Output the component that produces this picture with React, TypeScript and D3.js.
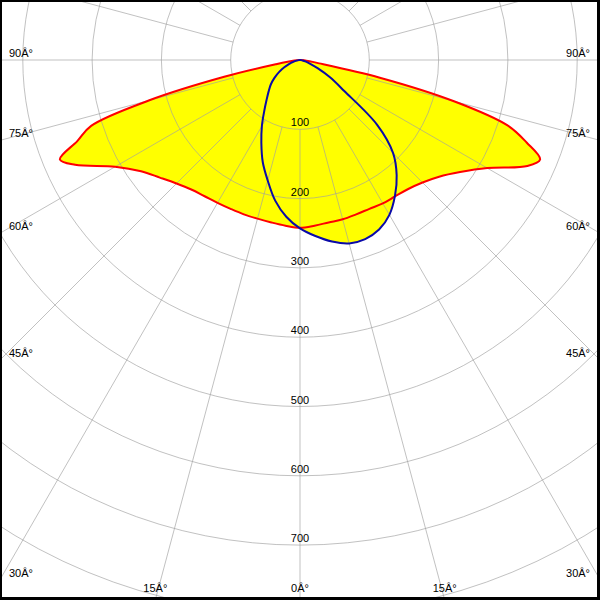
import React from 'react';
import * as d3 from 'd3';

// ---- data (candela per 1000 lm) ----
const RED_ANGLES = [0, 5, 10, 15, 20, 25, 30, 35, 40, 45, 50, 55, 60, 65, 67.5, 70, 72.5, 75, 77.5, 80, 85, 90];
const RED_C0 = [242, 240, 238, 238, 237, 237, 239, 240, 243, 250, 262, 282, 312, 362, 375, 348, 314, 230, 118, 28, 6, 0];
const RED_C180 = [242, 240, 238, 237, 237, 237, 238, 240, 244, 252, 264, 280, 308, 358, 375, 342, 316, 226, 112, 35, 8, 0];

const BLUE_ANGLES = [0, 5, 10, 15, 20, 25, 30, 35, 40, 45, 50, 55, 60, 65, 70, 75, 80, 85, 90];
const BLUE_C90 = [243, 255, 266, 274, 275, 270, 258, 239, 217, 190, 145, 78, 50, 28, 15, 8, 4, 2, 0];
const BLUE_C270 = [243, 227, 206, 180, 157, 132, 110, 90, 75, 64, 55, 45, 35, 25, 17, 10, 5, 2, 0];

const RING_VALUES = [100, 200, 300, 400, 500, 600, 700, 800, 900];
const RING_LABELS = [100, 200, 300, 400, 500, 600, 700];
const SIDE_ANGLE_LABELS = [90, 75, 60, 45, 30];
const BOTTOM_ANGLE_LABELS = [-15, 0, 15];

const W = 600;
const H = 600;
const CX = 300;
const CY = 60;
const FONT = '"Liberation Sans", Arial, sans-serif';

const rScale = d3.scaleLinear().domain([0, 800]).range([0, 554.4]);
const toRad = (g: number) => Math.PI - (g * Math.PI) / 180;

function buildPoints(angles: number[], right: number[], left: number[]): [number, number][] {
  const pts: [number, number][] = [];
  for (let i = angles.length - 1; i >= 0; i--) pts.push([toRad(-angles[i]), left[i]]);
  for (let i = 1; i < angles.length - 1; i++) pts.push([toRad(angles[i]), right[i]]);
  return pts;
}

const lineGen = d3
  .lineRadial<[number, number]>()
  .angle((d) => d[0])
  .radius((d) => rScale(d[1]))
  .curve(d3.curveCatmullRomClosed.alpha(0.5));

export default function App() {
  const redPath = lineGen(buildPoints(RED_ANGLES, RED_C0, RED_C180)) || '';
  const bluePath = lineGen(buildPoints(BLUE_ANGLES, BLUE_C90, BLUE_C270)) || '';

  const spokes = d3.range(0, 360, 15);
  const r0 = rScale(100);
  const rMax = 900;

  return (
    <svg width={W} height={H} style={{ position: 'absolute', left: 0, top: 0, background: '#fff' }}>
      <rect x={0} y={0} width={W} height={H} fill="#fff" />
      <g transform={`translate(${CX},${CY})`}>
        <path d={redPath} fill="#ffff00" stroke="none" />
        <path d={bluePath} fill="#ffff00" stroke="none" />
        {RING_VALUES.map((v) => (
          <circle key={v} r={rScale(v)} fill="none" stroke="#a0a0a0" strokeOpacity={0.65} strokeWidth={1} />
        ))}
        {spokes.map((g) => {
          const a = (g * Math.PI) / 180;
          return (
            <line
              key={g}
              x1={r0 * Math.sin(a)}
              y1={r0 * Math.cos(a)}
              x2={rMax * Math.sin(a)}
              y2={rMax * Math.cos(a)}
              stroke="#a0a0a0"
              strokeOpacity={0.65}
              strokeWidth={1}
            />
          );
        })}
        {RING_LABELS.map((v) => (
          <text key={v} x={0} y={rScale(v) - 3} textAnchor="middle" fontFamily={FONT} fontSize={11} fill="#000">
            {v}
          </text>
        ))}
        <path d={redPath} fill="none" stroke="#ff0000" strokeWidth={2} strokeLinejoin="round" />
        <path d={bluePath} fill="none" stroke="#0a0aa8" strokeWidth={2} strokeLinejoin="round" />
      </g>
      {SIDE_ANGLE_LABELS.map((g) => {
        const a = (g * Math.PI) / 180;
        const y = CY + CX / Math.tan(a) - 3;
        return (
          <g key={'s' + g}>
            <text x={9} y={y} fontFamily={FONT} fontSize={11} fill="#000">{`${g}Â°`}</text>
            <text x={590} y={y} textAnchor="end" fontFamily={FONT} fontSize={11} fill="#000">{`${g}Â°`}</text>
          </g>
        );
      })}
      {BOTTOM_ANGLE_LABELS.map((g, i) => {
        const a = (g * Math.PI) / 180;
        const x = CX + (H - CY) * Math.tan(a);
        return (
          <text key={'b' + i} x={x} y={592} textAnchor="middle" fontFamily={FONT} fontSize={11} fill="#000">
            {`${Math.abs(g)}Â°`}
          </text>
        );
      })}
      <rect x={0} y={0} width={W} height={2} fill="#000" />
      <rect x={0} y={0} width={2} height={H} fill="#000" />
      <rect x={597} y={0} width={3} height={H} fill="#000" />
      <rect x={0} y={597} width={W} height={3} fill="#000" />
    </svg>
  );
}
